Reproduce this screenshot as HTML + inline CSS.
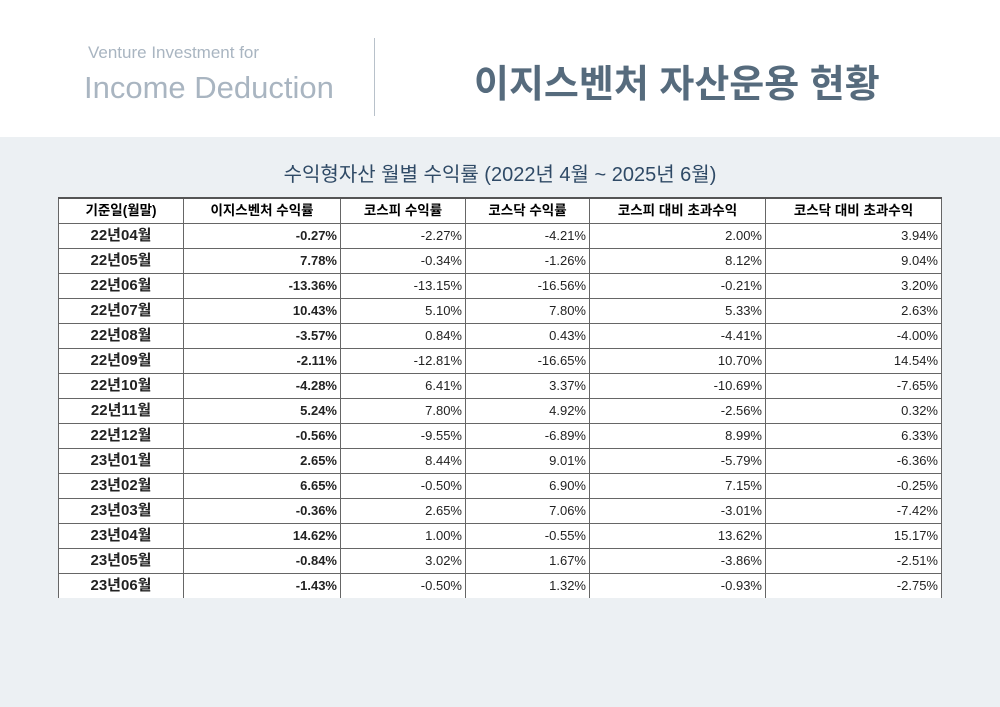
<!DOCTYPE html>
<html><head><meta charset="utf-8"><style>
body{margin:0;width:1000px;height:707px;background:#ecf0f3;font-family:"Liberation Sans","Noto Sans CJK KR",sans-serif;position:relative;overflow:hidden}
.top{position:absolute;left:0;top:0;width:1000px;height:137px;background:#fff}
.t1{position:absolute;left:88px;top:43px;font-size:17px;color:#a9b5c1;white-space:nowrap}
.t2{position:absolute;left:84px;top:70px;font-size:31px;color:#a9b5c1;white-space:nowrap}
.vl{position:absolute;left:374px;top:38px;width:1px;height:78px;background:#b8c1ca}
.big{position:absolute;left:474px;top:53px;font-size:38px;font-weight:bold;color:#566b7d;white-space:nowrap}
.title{position:absolute;left:0;width:1000px;top:158px;text-align:center;font-size:20px;color:#2f4a66}
table{position:absolute;left:58px;top:197px;border-collapse:collapse;background:#fff;table-layout:fixed}
td,th{height:24px;padding:0 3px;font-size:13px;border:1px solid #666;white-space:nowrap;line-height:24px}
th{font-weight:bold;border-top:2px solid #555;font-size:13.5px}
td{text-align:right;color:#222}
td.d{text-align:center;font-weight:bold;font-size:15px}
td.b{font-weight:bold}
tr:last-child td{border-bottom:none}
</style></head><body>
<div class="top"></div>
<div class="t1">Venture Investment for</div>
<div class="t2">Income Deduction</div>
<div class="vl"></div>
<div class="big">이지스벤처 자산운용 현황</div>
<div class="title">수익형자산 월별 수익률 (2022년 4월 ~ 2025년 6월)</div>
<table id="tbl">
<colgroup><col style="width:125px"><col style="width:157px"><col style="width:125px"><col style="width:124px"><col style="width:176px"><col style="width:176px"></colgroup>
<tr><th>기준일(월말)</th><th>이지스벤처 수익률</th><th>코스피 수익률</th><th>코스닥 수익률</th><th>코스피 대비 초과수익</th><th>코스닥 대비 초과수익</th></tr>
</table>
<script>
const months=["22년04월","22년05월","22년06월","22년07월","22년08월","22년09월","22년10월","22년11월","22년12월","23년01월","23년02월","23년03월","23년04월","23년05월","23년06월"];
const easys=["-0.27%","7.78%","-13.36%","10.43%","-3.57%","-2.11%","-4.28%","5.24%","-0.56%","2.65%","6.65%","-0.36%","14.62%","-0.84%","-1.43%"];
const kospi=["-2.27%","-0.34%","-13.15%","5.10%","0.84%","-12.81%","6.41%","7.80%","-9.55%","8.44%","-0.50%","2.65%","1.00%","3.02%","-0.50%"];
const kosdaq=["-4.21%","-1.26%","-16.56%","7.80%","0.43%","-16.65%","3.37%","4.92%","-6.89%","9.01%","6.90%","7.06%","-0.55%","1.67%","1.32%"];
const exKospi=["2.00%","8.12%","-0.21%","5.33%","-4.41%","10.70%","-10.69%","-2.56%","8.99%","-5.79%","7.15%","-3.01%","13.62%","-3.86%","-0.93%"];
const exKosdaq=["3.94%","9.04%","3.20%","2.63%","-4.00%","14.54%","-7.65%","0.32%","6.33%","-6.36%","-0.25%","-7.42%","15.17%","-2.51%","-2.75%"];
const tbl=document.getElementById('tbl');
months.forEach((m,i)=>{
  const tr=document.createElement('tr');
  
  
  const vals=[m,easys[i],kospi[i],kosdaq[i],exKospi[i],exKosdaq[i]];
  const names=['date','easys','kospi','kosdaq','excess-kospi','excess-kosdaq'];
  vals.forEach((v,j)=>{
    const td=document.createElement('td');
    
    
    if(j===0)td.className='d';else if(j===1)td.className='b';
    td.textContent=v;tr.appendChild(td);
  });
  tbl.appendChild(tr);
});
</script>
</body></html>
